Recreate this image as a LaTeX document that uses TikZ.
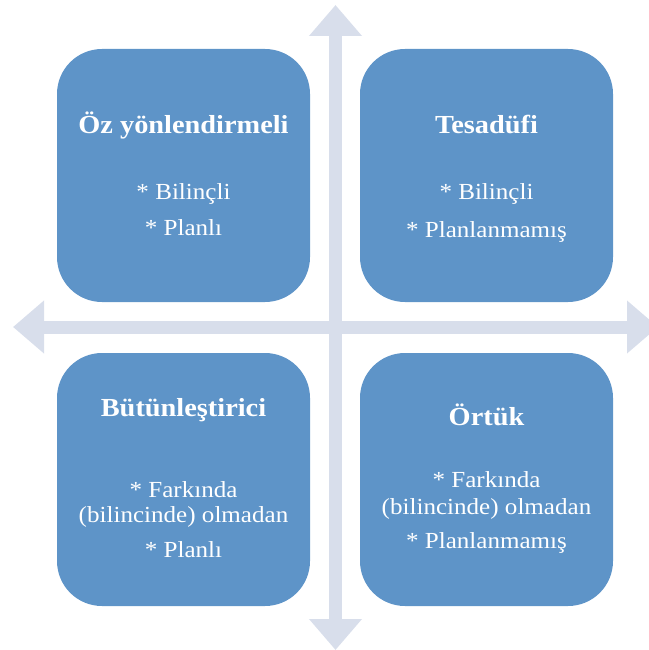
\documentclass[tikz,border=0pt]{standalone}
\usepackage{fontspec}
\setmainfont[FakeStretch=1.09]{Liberation Serif}
\usetikzlibrary{arrows.meta}
\definecolor{kutumavi}{RGB}{94,148,200}
\definecolor{eksengri}{RGB}{216,222,235}
\tikzset{
  kutu/.style={fill=kutumavi, rounded corners=45pt, minimum width=253pt,
    minimum height=253pt, inner sep=0pt},
  baslik/.style={text=white, font=\fontsize{26}{30}\selectfont\bfseries,
    anchor=base, inner sep=0pt},
  madde/.style={text=white, font=\fontsize{23}{26}\selectfont,
    anchor=base, inner sep=0pt},
  eksen/.style={draw=eksengri, line width=13pt,
    {Triangle[length=31pt,width=51pt]}-{Triangle[length=31pt,width=51pt]}}
}
\begin{document}
\begin{tikzpicture}[x=1pt,y=-1pt] % ------ dort bolge ----------------
    \useasboundingbox (0,0) rectangle (648,650);
    % eksenler
    \coordinate (ust) at (335.5,5);
    \coordinate (alt) at (335.5,650);
    \coordinate (sol) at (13,327);
    \coordinate (sag) at (658,327);
    \draw [eksen] (ust) -- (alt);
    \draw [eksen] (sol) -- (sag);
    % kutular
    \node [kutu] (oz) at (183.5,175.5) {};
    \node [kutu] (tes) at (486.5,175.5) {};
    \node [kutu] (but) at (183.5,479.5) {};
    \node [kutu] (ort) at (486.5,479.5) {};
    % sol ust
    \node [baslik] (oz-b) at (183.5,134) {Öz yönlendirmeli};
    \node [madde] (oz-1) at (183.5,199) {* Bilinçli};
    \node [madde] (oz-2) at (183.5,235) {* Planlı};
    % sag ust
    \node [baslik] (tes-b) at (486.5,133) {Tesadüfi};
    \node [madde] (tes-1) at (486.5,199) {* Bilinçli};
    \node [madde] (tes-2) at (486.5,237) {* Planlanmamış};
    % sol alt
    \node [baslik] (but-b) at (183.5,416) {Bütünleştirici};
    \node [madde] (but-1) at (183.5,497) {* Farkında};
    \node [madde] (but-2) at (183.5,522) {(bilincinde) olmadan};
    \node [madde] (but-3) at (183.5,557) {* Planlı};
    % sag alt
    \node [baslik] (ort-b) at (486.5,425) {Örtük};
    \node [madde] (ort-1) at (486.5,487) {* Farkında};
    \node [madde] (ort-2) at (486.5,514) {(bilincinde) olmadan};
    \node [madde] (ort-3) at (486.5,548) {* Planlanmamış};
\end{tikzpicture}
\end{document}
